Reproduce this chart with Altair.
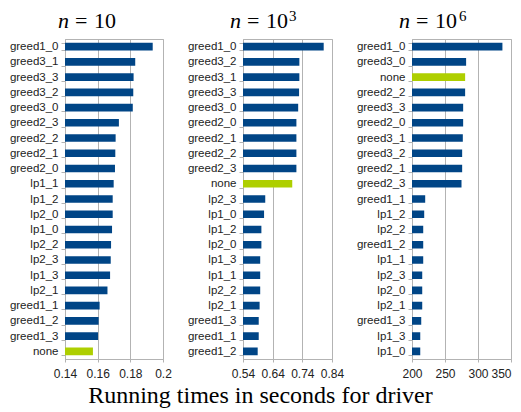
import altair as alt
import pandas as pd

# ---- data ----
n10_labels = ["greed1_0", "greed3_1", "greed3_3", "greed3_2", "greed3_0", "greed2_3",
              "greed2_2", "greed2_1", "greed2_0", "lp1_1", "lp1_2", "lp2_0", "lp1_0",
              "lp2_2", "lp2_3", "lp1_3", "lp2_1", "greed1_1", "greed1_2", "greed1_3", "none"]
n10_values = [0.1937, 0.1830, 0.1820, 0.1818, 0.1815, 0.1730, 0.1710, 0.1708, 0.1706,
              0.1698, 0.1692, 0.1692, 0.1688, 0.1682, 0.1680, 0.1676, 0.1660, 0.1612,
              0.1606, 0.1602, 0.1571]

n1e3_labels = ["greed1_0", "greed3_2", "greed3_1", "greed3_3", "greed3_0", "greed2_0",
               "greed2_1", "greed2_2", "greed2_3", "none", "lp2_3", "lp1_0", "lp1_2",
               "lp2_0", "lp1_3", "lp1_1", "lp2_2", "lp2_1", "greed1_3", "greed1_1", "greed1_2"]
n1e3_values = [0.812, 0.730, 0.730, 0.729, 0.726, 0.720, 0.720, 0.720, 0.720, 0.706,
               0.615, 0.611, 0.602, 0.602, 0.598, 0.598, 0.598, 0.596, 0.593, 0.593, 0.5895]

n1e6_labels = ["greed1_0", "greed3_0", "none", "greed2_2", "greed3_3", "greed2_0",
               "greed3_1", "greed3_2", "greed2_1", "greed2_3", "greed1_1", "lp1_2",
               "lp2_2", "greed1_2", "lp1_1", "lp2_3", "lp2_0", "lp2_1", "greed1_3",
               "lp1_3", "lp1_0"]
n1e6_values = [337, 282, 280.5, 280.5, 277.5, 277.5, 277, 276, 276, 275, 220, 218.5,
               217, 217, 217, 215.5, 215.5, 215.5, 214, 212.5, 212.5]

n10_ticks = [0.14, 0.16, 0.18, 0.2]
n1e3_ticks = [0.54, 0.64, 0.74, 0.84]
n1e6_ticks = [200, 250, 300, 350]

exponents = ["", "3", "6"]
main_title = "Running times in seconds for driver"

BLUE = "#004586"
GREEN = "#aecf00"
GRID = "#b3b3b3"
LABEL = "#222222"
SERIF = "Liberation Serif"
SANS = "Liberation Sans"

PLOT_H = 320


def title_piece(text, x, y, size=22, style="normal"):
    return alt.Chart(alt.Data(values=[{}])).mark_text(
        text=text, font=SERIF, fontSize=size, fontStyle=style, color="black",
        align="left", baseline="alphabetic"
    ).encode(x=alt.value(x), y=alt.value(y))


def panel(labels, values, ticks, width, title_x, sup, sup_dx, last_right=False):
    df = pd.DataFrame({"label": labels, "value": values})
    label_align = "center"
    if last_right:
        label_align = alt.condition(f"datum.value == {ticks[-1]}",
                                    alt.value("right"), alt.value("center"))
    bars = alt.Chart(df).mark_bar(clip=True).encode(
        y=alt.Y("label:N", sort=labels, title=None,
                scale=alt.Scale(paddingInner=0.5, paddingOuter=0.25),
                axis=alt.Axis(labelFont=SANS, labelFontSize=11.5, labelColor=LABEL,
                              tickColor=GRID, tickSize=4, tickBand="extent",
                              labelPadding=3, domainColor=GRID, grid=False)),
        x=alt.X("value:Q", title=None,
                scale=alt.Scale(domain=[ticks[0], ticks[-1]], zero=False, nice=False),
                axis=alt.Axis(values=ticks, format=".2~f", labelFont=SANS,
                              labelFontSize=12, labelColor=LABEL, labelFlush=False,
                              labelOverlap=False, labelAlign=label_align,
                              tickColor=GRID, tickSize=3, labelPadding=6,
                              domainColor=GRID, grid=True, gridColor=GRID)),
        color=alt.condition(alt.datum.label == "none", alt.value(GREEN), alt.value(BLUE)),
    )
    layers = [bars,
              title_piece("n", title_x, -11, style="italic"),
              title_piece("=", title_x + 17, -11),
              title_piece("10", title_x + 36, -11)]
    if sup:
        layers.append(title_piece(sup, title_x + sup_dx, -18, size=15))
    return alt.layer(*layers).properties(width=width, height=PLOT_H)


p1 = panel(n10_labels, n10_values, n10_ticks, 98, -7, exponents[0], 0)
p2 = panel(n1e3_labels, n1e3_values, n1e3_ticks, 89, -13, exponents[1], 59)
p3 = panel(n1e6_labels, n1e6_values, n1e6_ticks, 99, -13, exponents[2], 60, last_right=True)

chart = alt.hconcat(p1, p2, p3, spacing=80, bounds="flush").properties(
    padding=0,
    title=alt.TitleParams(main_title, orient="bottom", anchor="middle", font=SERIF,
                          fontSize=24, fontWeight="normal", color="black", offset=4),
).configure_view(stroke=GRID, strokeWidth=1)

chart.save("out.html", embed_options={"renderer": "svg", "actions": False})
